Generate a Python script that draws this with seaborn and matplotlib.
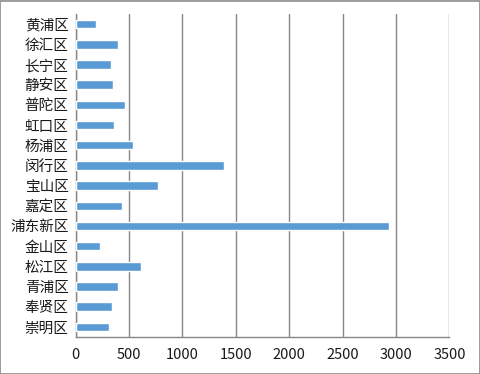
import numpy as np
import pandas as pd
import seaborn as sns
import matplotlib.pyplot as plt
from matplotlib.patches import Rectangle

# Data
districts = ['黄浦区', '徐汇区', '长宁区', '静安区', '普陀区', '虹口区', '杨浦区', '闵行区',
             '宝山区', '嘉定区', '浦东新区', '金山区', '松江区', '青浦区', '奉贤区', '崇明区']
values = [190, 396, 331, 350, 462, 359, 537, 1390,
          771, 434, 2936, 228, 612, 396, 340, 312]
x_ticks = [0, 500, 1000, 1500, 2000, 2500, 3000, 3500]

df = pd.DataFrame({'district': districts, 'value': values})

sns.set_style('white')
plt.rcParams['font.family'] = ['Noto Sans CJK SC', 'DejaVu Sans']

grid_col = '#868686'
fig = plt.figure(figsize=(4.81, 3.74), dpi=100)
ax = fig.add_axes([0.157, 0.099, 0.7775, 0.8635])

sns.barplot(data=df, x='value', y='district', orient='h', color='#5B9BD5',
            saturation=1, width=0.42, ax=ax, zorder=3)

ax.set_xlim(0, 3500)
ax.set_ylim(len(districts) - 0.5, -0.5)
ax.set_xticks(x_ticks)
ax.set_xticklabels([str(t) for t in x_ticks], fontsize=10.5, color='#1a1a1a')
ax.xaxis.grid(True, color=grid_col, linewidth=1, zorder=0)
ax.set_xlabel('')
ax.set_ylabel('')

# category tick marks sit between the bars
ax.set_yticks(np.arange(len(districts)))
ax.set_yticklabels(districts, fontsize=10.5, color='#1a1a1a')
ax.tick_params(axis='y', which='major', length=0, pad=5)
ax.set_yticks(np.arange(-0.5, len(districts)), minor=True)
ax.tick_params(axis='y', which='minor', length=5, color=grid_col, width=1)
ax.tick_params(axis='x', which='major', length=5, color=grid_col, width=1, pad=3)

for side in ['top', 'right']:
    ax.spines[side].set_visible(False)
for side in ['left', 'bottom']:
    ax.spines[side].set_color(grid_col)
    ax.spines[side].set_linewidth(1)

# light frame around the whole chart
fig.patches.append(Rectangle((0.001, 0.001), 0.997, 0.996, transform=fig.transFigure,
                             fill=False, edgecolor='#8c8c8c', linewidth=1.2))

fig.savefig('out.png', dpi=100)
